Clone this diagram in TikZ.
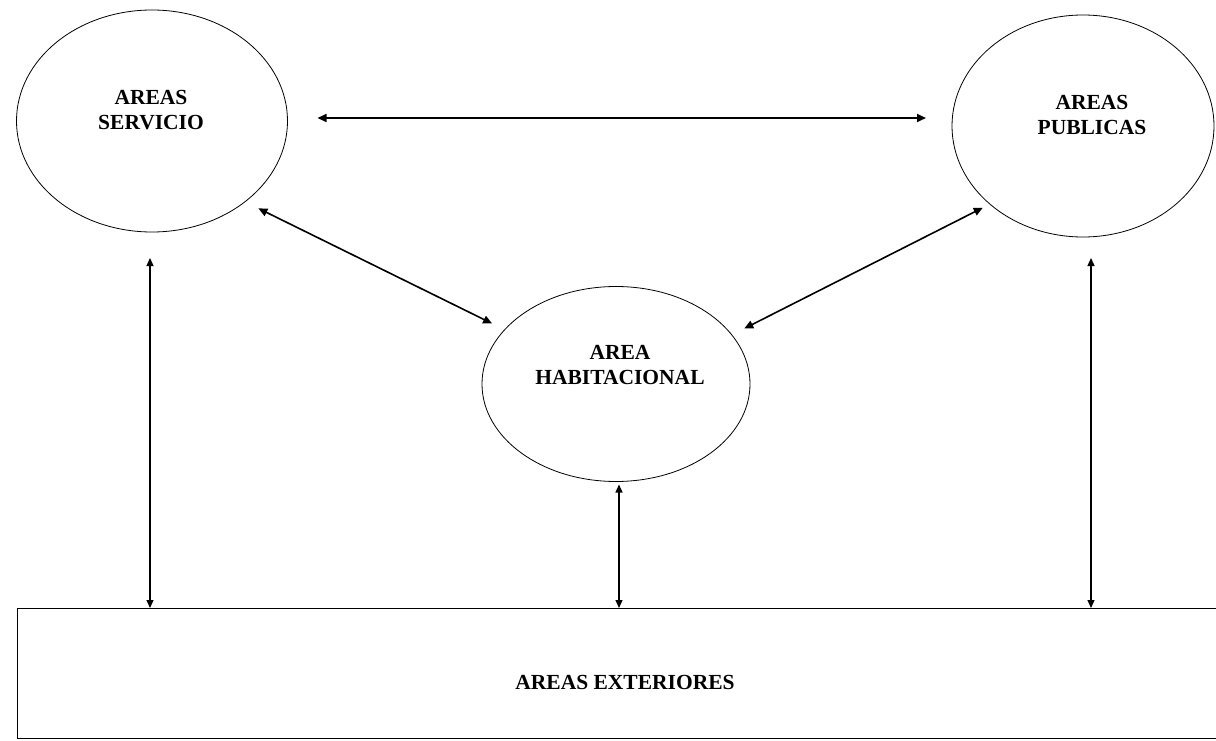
\documentclass[tikz,border=0pt]{standalone}
\usepackage{fontspec}
\setmainfont{Liberation Serif}
\usetikzlibrary{shapes.geometric,arrows.meta}
\begin{document}
\begin{tikzpicture}[x=1pt,y=-1pt,
  area/.style={ellipse,draw,line width=0.8pt,inner sep=0pt,outer sep=0pt},
  lbl/.style={font=\fontsize{21.5}{25}\selectfont\bfseries,align=center,inner sep=0pt},
  link/.style={line width=1.6pt,{Triangle[length=9pt,width=8pt]}-{Triangle[length=9pt,width=8pt]}},
  vlink/.style={line width=1.2pt,{Triangle[length=8pt,width=7pt]}-{Triangle[length=8pt,width=7pt]}}]
\useasboundingbox (0,0) rectangle (1216,741);
\node[area,minimum width=271pt,minimum height=222pt] (serv) at (152,121) {};
\node[area,minimum width=262pt,minimum height=222pt] (pub) at (1083,126) {};
\node[area,minimum width=268pt,minimum height=195pt] (hab) at (616,384) {};
\node[inner sep=0pt,outer sep=0pt,minimum width=1199pt,minimum height=130pt] (ext) at (616.5,673) {};
\draw[line width=0.8pt] (ext.north east) -- (ext.north west) -- (ext.south west) -- (ext.south east);
\node[lbl] (servt) at (151,110) {AREAS\\SERVICIO};
\node[lbl] (pubt) at (1092,115) {AREAS\\PUBLICAS};
\node[lbl] (habt) at (620,365) {AREA\\HABITACIONAL};
\node[lbl] (extt) at (625,682) {AREAS EXTERIORES};
\draw[link] ([shift={(30,-3)}]serv.east) -- ([shift={(-26,-8)}]pub.west);
\draw[link,shorten <=15pt,shorten >=14pt] (serv.-41) -- (hab.154);
\draw[link,shorten <=8pt,shorten >=14pt] (pub.220) -- (hab.23);
\draw[vlink] ([shift={(-2,26)}]serv.south) -- ([xshift=-2pt]serv.south |- ext.north);
\draw[vlink] ([shift={(3,3)}]hab.south) -- ([xshift=3pt]hab.south |- ext.north);
\draw[vlink] ([shift={(8,21)}]pub.south) -- ([xshift=8pt]pub.south |- ext.north);
\end{tikzpicture}
\end{document}
